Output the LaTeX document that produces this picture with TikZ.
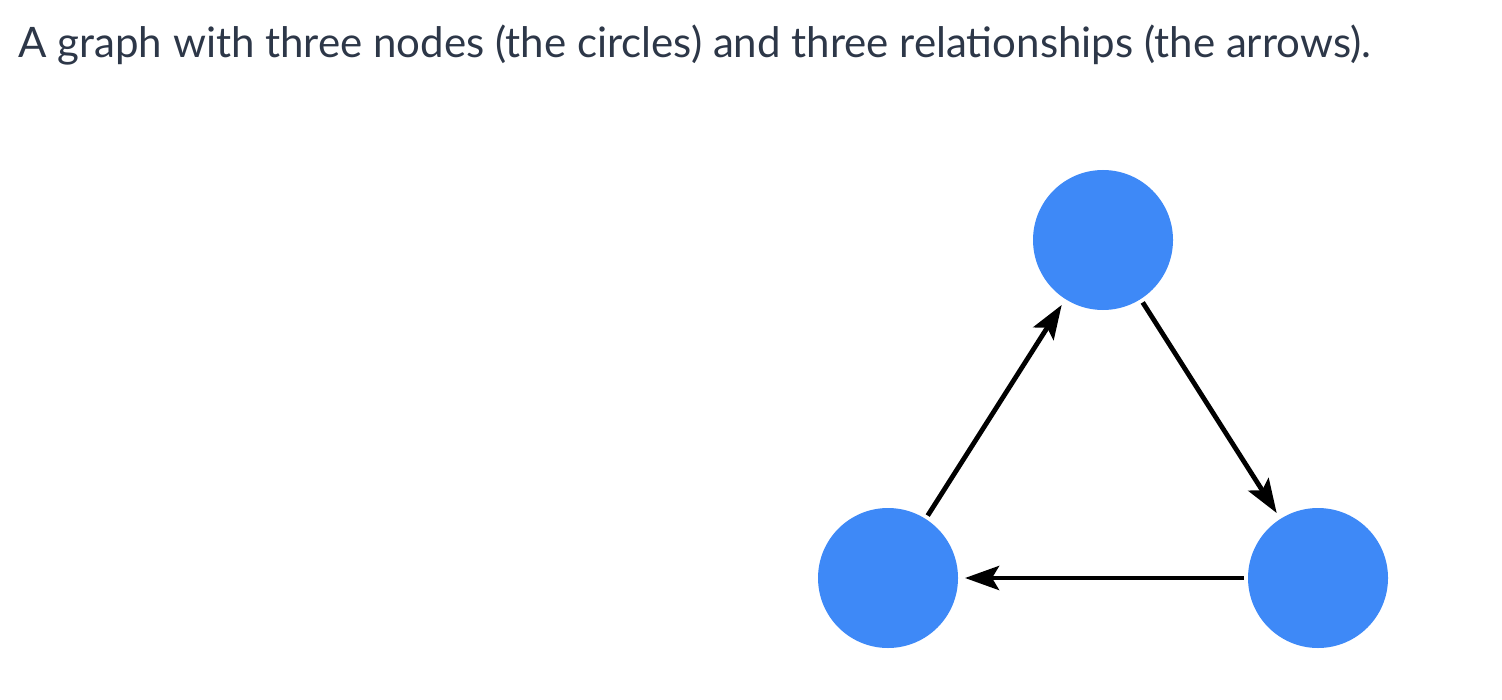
\documentclass[tikz,border=0pt]{standalone}
\usepackage{fontspec}
\setmainfont{Lato}
\usetikzlibrary{arrows.meta}
\usetikzlibrary{positioning}
\definecolor{nodeblue}{RGB}{62,137,247}
\definecolor{captiongray}{RGB}{45,55,72}
\tikzset{
  vertex/.style={circle,fill=nodeblue,minimum size=70pt,inner sep=0pt,outer sep=2pt},
  rel/.style={-{Stealth[length=17pt,width=12pt,inset=3.5pt]},line width=2.4pt,shorten >=1.5pt}
}

\begin{document}
\begin{tikzpicture}[x=0.5pt,y=-0.5pt]
\useasboundingbox (0,0) rectangle (1502,700);
\node at (18,58)[anchor=base west,inner sep=0pt,text=captiongray,font=\fontsize{21}{25}\selectfont](caption){A graph with three nodes (the circles) and three relationships (the arrows).};
\node at (1103,240)[vertex](n1){};
\node at (888,578)[vertex](n2){};
\node at (1318,578)[vertex](n3){};
\draw[rel] (n1) -- (n3);
\draw[rel] (n3) -- (n2);
\draw[rel] (n2) -- (n1);
\end{tikzpicture}
\end{document}
